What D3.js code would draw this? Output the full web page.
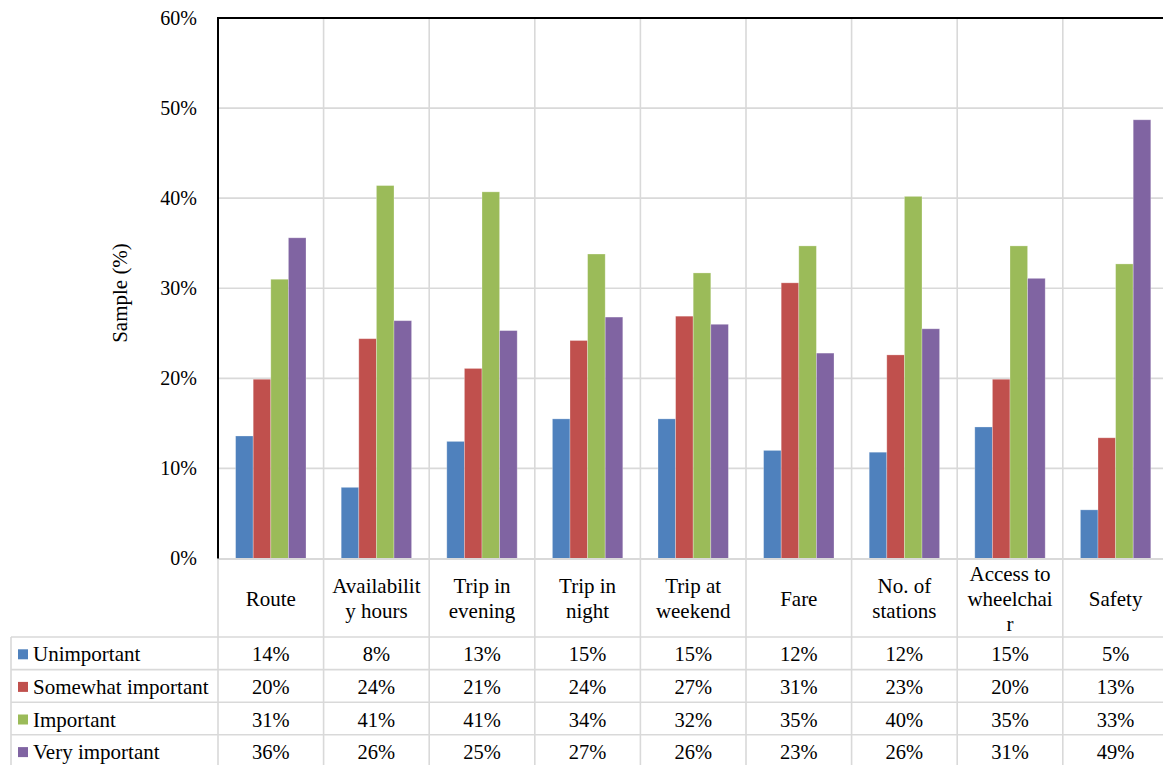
<!DOCTYPE html>
<html>
<head>
<meta charset="utf-8">
<script src="https://cdn.jsdelivr.net/npm/d3@7"></script>
<style>
  html, body { margin: 0; padding: 0; background: #fff; }
  svg { display: block; }
  text { font-family: "Liberation Serif", "Times New Roman", serif; fill: #000; }
</style>
</head>
<body>
<svg id="chart" width="1163" height="765"></svg>
<script>
// ---- data ----
const categories = ["Route", "Availability hours", "Trip in evening", "Trip in night", "Trip at weekend", "Fare", "No. of stations", "Access to wheelchair", "Safety"];
const categoryLines = [["Route"], ["Availabilit", "y hours"], ["Trip in", "evening"], ["Trip in", "night"], ["Trip at", "weekend"], ["Fare"], ["No. of", "stations"], ["Access to", "wheelchai", "r"], ["Safety"]];
const seriesNames = ["Unimportant", "Somewhat important", "Important", "Very important"];
const unimportant       = [13.6, 7.9, 13.0, 15.5, 15.5, 12.0, 11.8, 14.6, 5.4];
const somewhatImportant = [19.9, 24.4, 21.1, 24.2, 26.9, 30.6, 22.6, 19.9, 13.4];
const important         = [31.0, 41.4, 40.7, 33.8, 31.7, 34.7, 40.2, 34.7, 32.7];
const veryImportant     = [35.6, 26.4, 25.3, 26.8, 26.0, 22.8, 25.5, 31.1, 48.7];
const tableLabels = [
  ["14%", "8%", "13%", "15%", "15%", "12%", "12%", "15%", "5%"],
  ["20%", "24%", "21%", "24%", "27%", "31%", "23%", "20%", "13%"],
  ["31%", "41%", "41%", "34%", "32%", "35%", "40%", "35%", "33%"],
  ["36%", "26%", "25%", "27%", "26%", "23%", "26%", "31%", "49%"]
];
const yTicks = [0, 10, 20, 30, 40, 50, 60];
const colors = ["#4F81BD", "#C0504D", "#9BBB59", "#8064A2"];

const seriesValues = [unimportant, somewhatImportant, important, veryImportant];

// ---- layout ----
const svg = d3.select("#chart");
const plotLeft = 218, plotTop = 18, plotBottom = 558.5;
const bandW = 105.6;
const rowTop = 637, rowH = 32.6;
const gridColor = "#d9d9d9";
const fs = 21;

const x = d3.scaleBand().domain(categories).range([plotLeft, plotLeft + bandW * categories.length]).padding(0);
const x1 = d3.scaleBand().domain(seriesNames).range([0, x.bandwidth()]).paddingInner(0).paddingOuter(1);
const y = d3.scaleLinear().domain([0, 60]).range([plotBottom, plotTop]);

// horizontal gridlines
svg.append("g").selectAll("line").data(yTicks.filter(t => t > 0 && t < 60)).join("line")
  .attr("x1", plotLeft).attr("x2", 1163)
  .attr("y1", d => y(d)).attr("y2", d => y(d))
  .attr("stroke", gridColor).attr("stroke-width", 1.6);

// vertical gridlines (category boundaries) through chart and table
svg.append("g").selectAll("line").data(categories.slice(1)).join("line")
  .attr("x1", d => x(d)).attr("x2", d => x(d))
  .attr("y1", plotTop).attr("y2", 765)
  .attr("stroke", gridColor).attr("stroke-width", 1.6);

// bars
const g = svg.append("g");
categories.forEach((c, ci) => {
  seriesNames.forEach((s, si) => {
    const v = seriesValues[si][ci];
    g.append("rect")
      .attr("x", x(c) + x1(s))
      .attr("width", x1.bandwidth())
      .attr("y", y(v))
      .attr("height", y(0) - y(v))
      .attr("fill", colors[si])
      .attr("stroke", "rgba(255,255,255,0.35)")
      .attr("stroke-width", 0.8);
  });
});

// baseline (gray)
svg.append("line").attr("x1", plotLeft).attr("x2", 1163).attr("y1", plotBottom + 0.5).attr("y2", plotBottom + 0.5)
  .attr("stroke", gridColor).attr("stroke-width", 2);

// table: left border of header row
svg.append("line").attr("x1", plotLeft).attr("x2", plotLeft).attr("y1", plotBottom).attr("y2", 765)
  .attr("stroke", gridColor).attr("stroke-width", 1.6);
// legend column left border
svg.append("line").attr("x1", 11).attr("x2", 11).attr("y1", rowTop).attr("y2", 765)
  .attr("stroke", gridColor).attr("stroke-width", 1.6);
// row lines
svg.append("g").selectAll("line").data(d3.range(5)).join("line")
  .attr("x1", 11).attr("x2", 1163)
  .attr("y1", d => rowTop + d * rowH).attr("y2", d => rowTop + d * rowH)
  .attr("stroke", gridColor).attr("stroke-width", 1.6);

// axis lines (black)
svg.append("line").attr("x1", plotLeft).attr("x2", plotLeft).attr("y1", plotTop - 1).attr("y2", plotBottom)
  .attr("stroke", "#000").attr("stroke-width", 2);
svg.append("line").attr("x1", plotLeft - 1).attr("x2", 1163).attr("y1", plotTop).attr("y2", plotTop)
  .attr("stroke", "#000").attr("stroke-width", 2);

// y tick labels
const yAxis = d3.axisLeft(y).tickValues(yTicks).tickFormat(d => d + "%").tickSize(0).tickPadding(21);
const ya = svg.append("g").attr("transform", `translate(${plotLeft},0)`).call(yAxis);
ya.select(".domain").remove();
ya.selectAll("text").attr("font-size", 20).attr("font-family", "Liberation Serif, serif").attr("fill", "#000");

// y axis title
svg.append("text")
  .attr("transform", "translate(120,293) rotate(-90)")
  .attr("text-anchor", "middle").attr("dominant-baseline", "central")
  .attr("font-size", fs).text("Sample (%)");

// category header labels
const headerCenter = 598.5, lineH = 25;
categories.forEach((c, ci) => {
  const lines = categoryLines[ci];
  const t = svg.append("text").attr("text-anchor", "middle").attr("font-size", fs);
  lines.forEach((ln, li) => {
    t.append("tspan")
      .attr("x", x(c) + x.bandwidth() / 2)
      .attr("y", headerCenter + (li - (lines.length - 1) / 2) * lineH)
      .attr("dominant-baseline", "central")
      .text(ln);
  });
});

// table rows: legend + values
seriesNames.forEach((s, si) => {
  const cy = rowTop + si * rowH + rowH / 2 + 1;
  svg.append("rect").attr("x", 18).attr("y", cy - 5).attr("width", 10).attr("height", 10).attr("fill", colors[si]);
  svg.append("text").attr("x", 33).attr("y", cy).attr("dominant-baseline", "central")
    .attr("font-size", fs).text(s);
  categories.forEach((c, ci) => {
    svg.append("text").attr("x", x(c) + x.bandwidth() / 2).attr("y", cy)
      .attr("text-anchor", "middle").attr("dominant-baseline", "central")
      .attr("font-size", fs - 0.5).text(tableLabels[si][ci]);
  });
});
</script>
</body>
</html>
